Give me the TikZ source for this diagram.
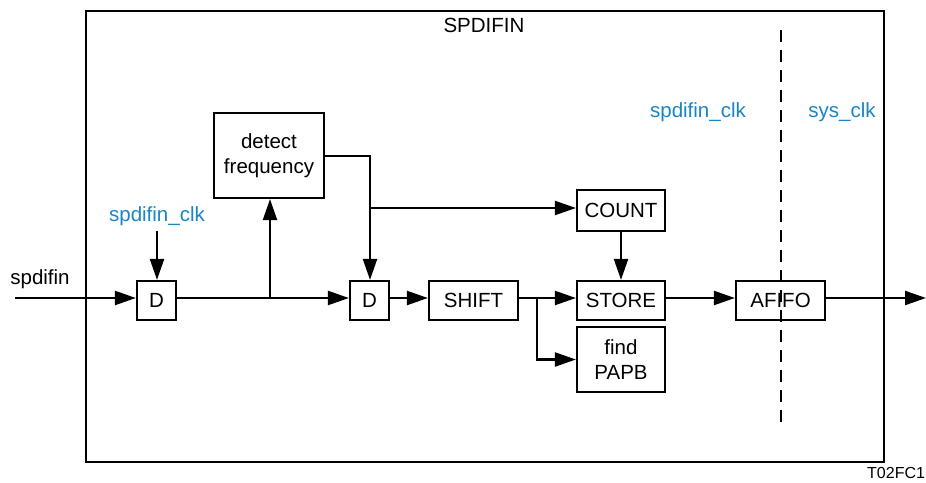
\documentclass[tikz,border=0pt]{standalone}
\usepackage{fontspec}
\setmainfont{Liberation Sans}
\usetikzlibrary{arrows.meta}
\definecolor{clkblue}{RGB}{25,133,196}
\begin{document}
\begin{tikzpicture}[x=1pt,y=-1pt,
  every node/.style={font=\fontsize{20.5}{25}\selectfont},
  blk/.style={draw,line width=2.2pt,inner sep=0pt,align=center},
  wire/.style={line width=2.2pt},
  arr/.style={wire,-{Triangle[length=21,width=14]}},
  clk/.style={text=clkblue}]
\useasboundingbox (0,0) rectangle (926,482);
% outer frame
\node[draw,line width=2.2pt,minimum width=798,minimum height=451,anchor=north west,inner sep=0pt] (frame) at (85,10) {};
\node (title) at (484,25) {SPDIFIN};
% clock domain boundary and labels
\coordinate (dtop) at (781,30);
\coordinate (dbot) at (781,428);
\draw[line width=2.4pt,dash pattern=on 12pt off 8pt] (dtop) -- (dbot);
\node[clk] (clkA) at (698,112) {spdifin\_clk};
\node[clk] (clkB) at (842,112) {sys\_clk};
\node[clk] (clkC) at (157,216) {spdifin\_clk};
\node (inlbl) at (40,279) {spdifin};
% blocks
\node[blk,minimum width=39,minimum height=39] (d1) at (156.5,300.5) {D};
\node[blk,minimum width=110,minimum height=85] (det) at (269,155.5) {detect\\frequency};
\node[blk,minimum width=39,minimum height=39] (d2) at (369.5,300.5) {D};
\node[blk,minimum width=89,minimum height=39] (shift) at (473.5,300.5) {SHIFT};
\node[blk,minimum width=88,minimum height=41] (count) at (621,210.5) {COUNT};
\node[blk,minimum width=88,minimum height=39] (store) at (621,300.5) {STORE};
\node[blk,minimum width=88,minimum height=65] (papb) at (621,359.5) {find\\PAPB};
\node[blk,minimum width=89,minimum height=39] (afifo) at (780.5,300.5) {AFIFO};
% connectors
\coordinate (in) at (15,298);
\coordinate (out) at (926,298);
\coordinate (clkin) at (157,231);
\draw[arr] (in) -- (d1.west |- in);
\draw[arr] (clkin) -- (clkin |- d1.north);
\draw[arr] (d1.east |- in) -- (d2.west |- in);
\coordinate (br1) at (270,298);
\draw[arr] (br1) -- (br1 |- det.south);
\coordinate (cn) at (370,156);
\draw[arr] (det.east |- cn) -- (cn) -- (cn |- d2.north);
\coordinate (cb) at (370,208);
\draw[arr] (cb) -- (count.west |- cb);
\draw[arr] (d2.east |- in) -- (shift.west |- in);
\draw[arr] (shift.east |- in) -- (store.west |- in);
\coordinate (br2) at (537,298);
\draw[arr] (br2) |- (papb.west);
\draw[arr] (count.south) -- (store.north);
\draw[arr] (store.east |- in) -- (afifo.west |- in);
\draw[arr] (afifo.east |- in) -- (out);
\node[anchor=west,inner sep=0pt,font=\fontsize{16}{18}\selectfont] (tag) at (867,473) {T02FC1};
\end{tikzpicture}
\end{document}
